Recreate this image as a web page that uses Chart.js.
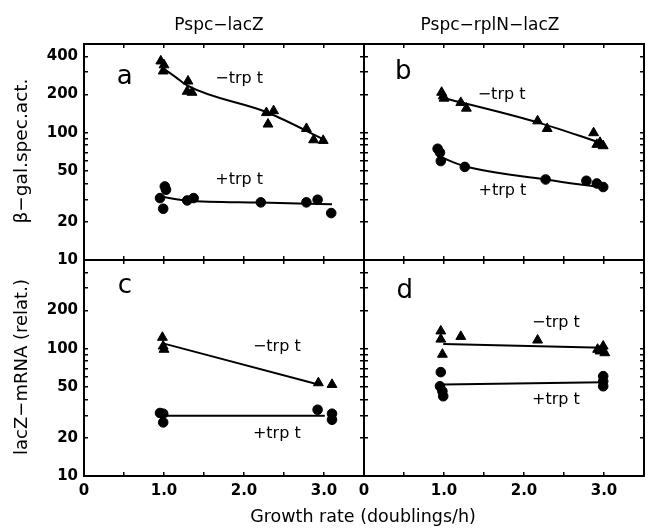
<!DOCTYPE html>
<html><head><meta charset="utf-8">
<script src="https://cdn.jsdelivr.net/npm/chart.js@4"></script>
<style>
html,body{margin:0;padding:0;background:#fff;}
#wrap{position:relative;width:654px;height:529px;background:#fff;}
canvas{position:absolute;left:0;top:0;}
</style></head><body>
<div id="wrap">
<canvas id="ca" width="654" height="529"></canvas>
<canvas id="cb" width="654" height="529"></canvas>
<canvas id="cc" width="654" height="529"></canvas>
<canvas id="cd" width="654" height="529"></canvas>
</div>
<script>
// ---- axis ticks ----
const xTickLabels = {0: '0', 1: '1.0', 2: '2.0', 3: '3.0'};
const yTickValues = [10,20,30,40,50,60,70,80,90,100,200,300,400,500];
const yLabelsTop = [10,20,50,100,200,400];
const yLabelsBottom = [10,20,50,100,200];

// ---- panel a: Pspc-lacZ, beta-gal ----
const aMinusX = [0.96,1.00,0.99,1.30,1.29,1.35,2.28,2.37,2.30,2.78,2.87,2.99];
const aMinusY = [367,342,306,255,212,208,144,149,117,108,88,87];
const aPlusX  = [0.95,1.01,1.025,0.99,1.29,1.37,2.21,2.78,2.92,3.09];
const aPlusY  = [30.7,37.9,35.7,25.3,29.4,30.7,28.4,28.4,29.8,23.4];
const aMinusFitX = [0.97,1.15,1.30,2.30,3.01];
const aMinusFitY = [330,273,234,144,88];
const aPlusFitX = [0.95,1.29,2.20,3.10];
const aPlusFitY = [31.6,29.4,28.3,27.5];

// ---- panel b: Pspc-rplN-lacZ, beta-gal ----
const bMinusX = [0.97,0.99,1.00,1.21,1.28,2.17,2.29,2.87,2.91,2.95,2.99];
const bMinusY = [208,195,187,173,156,124,108,100,81,84,79];
const bPlusX  = [0.92,0.95,0.96,1.26,2.27,2.78,2.91,2.99];
const bPlusY  = [75,70,60,54,43,42,40,37.5];
const bMinusFitX = [0.97,2.17,2.97];
const bMinusFitY = [190,121,83];
const bPlusFitX = [0.97,1.26,2.27,3.00];
const bPlusFitY = [64,54.6,43,37];

// ---- panel c: Pspc-lacZ, mRNA ----
const cMinusX = [0.98,0.99,1.00,2.93,3.10];
const cMinusY = [123,105,99,54,52.4];
const cPlusX  = [0.95,0.99,0.99,2.92,3.10,3.10];
const cPlusY  = [31.3,30.9,26.4,33.2,30.9,27.7];
const cMinusFitX = [1.00,2.93];
const cMinusFitY = [110,52.4];
const cPlusFitX = [0.99,3.01];
const cPlusFitY = [29.8,29.8];

// ---- panel d: Pspc-rplN-lacZ, mRNA ----
const dMinusX = [0.96,0.96,0.98,1.21,2.17,2.92,2.99,3.01,2.95];
const dMinusY = [138,119,90.5,125,117,99,105,93,96];
const dPlusX  = [0.96,0.95,0.98,0.99,2.99,2.99,2.99];
const dPlusY  = [65.6,50.8,46.4,42.4,61,55.6,50.8];
const dMinusFitX = [0.99,2.99];
const dMinusFitY = [109,102];
const dPlusFitX = [0.99,2.99];
const dPlusFitY = [52.4,54.7];

// ---- in-panel text (data coordinates) ----
const aNoteText = ['a','−trp t','+trp t'];
const aNoteX = [0.51,1.94,1.94]; const aNoteY = [275,265,42.9];
const bNoteText = ['b','−trp t','+trp t'];
const bNoteX = [0.49,1.72,1.73]; const bNoteY = [301,198,35.1];
const cNoteText = ['c','−trp t','+trp t'];
const cNoteX = [0.51,2.41,2.41]; const cNoteY = [309,103,21.5];
const dNoteText = ['d','−trp t','+trp t'];
const dNoteX = [0.51,2.40,2.40]; const dNoteY = [286,159,39.8];

const FONT = '"DejaVu Sans", sans-serif';

function pts(xs, ys) { return xs.map((x, i) => ({x: x, y: ys[i]})); }

const notesPlugin = {
  id: 'notes',
  afterDatasetsDraw(chart, args, opts) {
    const ctx = chart.ctx, sx = chart.scales.x, sy = chart.scales.y;
    ctx.save();
    ctx.fillStyle = '#000';
    ctx.textAlign = 'center';
    ctx.textBaseline = 'middle';
    opts.texts.forEach((t, i) => {
      ctx.font = (i === 0 ? '26px ' : '16px ') + FONT;
      ctx.fillText(t, sx.getPixelForValue(opts.xs[i]), sy.getPixelForValue(opts.ys[i]));
    });
    ctx.restore();
  }
};

const frameTextPlugin = {
  id: 'frameText',
  afterDraw(chart) {
    const ctx = chart.ctx;
    ctx.save();
    ctx.fillStyle = '#000';
    ctx.textAlign = 'center';
    ctx.textBaseline = 'middle';
    ctx.font = '17px ' + FONT;
    ctx.fillText('Pspc−lacZ', 219, 26);
    ctx.fillText('Pspc−rplN−lacZ', 490, 26);
    ctx.font = '17.5px ' + FONT;
    ctx.fillText('Growth rate (doublings/h)', 363, 517);
    ctx.font = '18.5px ' + FONT;
    ctx.translate(22, 151);
    ctx.rotate(-Math.PI / 2);
    ctx.fillText('β−gal.spec.act.', 0, 0);
    ctx.restore();
    ctx.save();
    ctx.fillStyle = '#000';
    ctx.textAlign = 'center';
    ctx.textBaseline = 'middle';
    ctx.font = '18px ' + FONT;
    ctx.translate(22, 367);
    ctx.rotate(-Math.PI / 2);
    ctx.fillText('lacZ−mRNA (relat.)', 0, 0);
    ctx.restore();
  }
};

function axisGrid() {
  return {drawOnChartArea: false, drawTicks: true, tickLength: -4, color: '#000', lineWidth: 1.5};
}
const border = {display: true, color: '#000', width: 2};

function makePanel(id, p) {
  const tickFont = {family: FONT, size: 15, weight: 'bold'};
  const plugins = [notesPlugin];
  if (p.frameText) plugins.push(frameTextPlugin);
  return new Chart(document.getElementById(id), {
    type: 'scatter',
    data: {datasets: [
      {data: pts(p.minusFitX, p.minusFitY), showLine: true, borderColor: '#000', borderWidth: 2, pointRadius: 0, tension: 0.4, cubicInterpolationMode: 'monotone', fill: false},
      {data: pts(p.plusFitX, p.plusFitY), showLine: true, borderColor: '#000', borderWidth: 2, pointRadius: 0, tension: 0.4, cubicInterpolationMode: 'monotone', fill: false},
      {data: pts(p.minusX, p.minusY), showLine: false, pointStyle: 'triangle', pointRadius: 5.7, backgroundColor: '#000', borderColor: '#000', borderWidth: 1},
      {data: pts(p.plusX, p.plusY), showLine: false, pointStyle: 'circle', pointRadius: 4.8, backgroundColor: '#000', borderColor: '#000', borderWidth: 1}
    ]},
    options: {
      responsive: false, animation: false, events: [],
      layout: {padding: p.padding},
      plugins: {legend: {display: false}, tooltip: {enabled: false},
        notes: {texts: p.notes, xs: p.noteX, ys: p.noteY}},
      scales: {
        x: {type: 'linear', position: 'bottom', min: 0, max: 3.5,
          ticks: {stepSize: 0.5, display: p.showX, autoSkip: false, maxRotation: 0, padding: 10, color: '#000', font: tickFont,
            callback: v => (xTickLabels[v] !== undefined ? xTickLabels[v] : '')},
          grid: axisGrid(), border: border, afterFit: s => { s.height = p.xH; }},
        x2: {type: 'linear', position: 'top', min: 0, max: 3.5,
          ticks: {stepSize: 0.5, display: false}, grid: axisGrid(), border: border, afterFit: s => { s.height = 0; }},
        y: {type: 'logarithmic', position: 'left', min: 10, max: 500,
          afterBuildTicks: s => { s.ticks = yTickValues.map(v => ({value: v})); },
          ticks: {display: p.showY, autoSkip: false, padding: 10, color: '#000', font: tickFont,
            callback: v => (p.yLabels.includes(v) ? String(v) : '')},
          grid: axisGrid(), border: border, afterFit: s => { s.width = p.yW; }},
        y2: {type: 'logarithmic', position: 'right', min: 10, max: 500,
          afterBuildTicks: s => { s.ticks = yTickValues.map(v => ({value: v})); },
          ticks: {display: false}, grid: axisGrid(), border: border, afterFit: s => { s.width = 0; }}
      }
    },
    plugins: plugins
  });
}

makePanel('ca', {padding: {left: 0, right: 290, top: 44, bottom: 269}, yW: 84, xH: 0, showX: false, showY: true, yLabels: yLabelsTop,
  minusX: aMinusX, minusY: aMinusY, plusX: aPlusX, plusY: aPlusY,
  minusFitX: aMinusFitX, minusFitY: aMinusFitY, plusFitX: aPlusFitX, plusFitY: aPlusFitY,
  notes: aNoteText, noteX: aNoteX, noteY: aNoteY, frameText: true});
makePanel('cb', {padding: {left: 364, right: 10, top: 44, bottom: 269}, yW: 0, xH: 0, showX: false, showY: false, yLabels: [],
  minusX: bMinusX, minusY: bMinusY, plusX: bPlusX, plusY: bPlusY,
  minusFitX: bMinusFitX, minusFitY: bMinusFitY, plusFitX: bPlusFitX, plusFitY: bPlusFitY,
  notes: bNoteText, noteX: bNoteX, noteY: bNoteY});
makePanel('cc', {padding: {left: 0, right: 290, top: 260, bottom: 0}, yW: 84, xH: 53, showX: true, showY: true, yLabels: yLabelsBottom,
  minusX: cMinusX, minusY: cMinusY, plusX: cPlusX, plusY: cPlusY,
  minusFitX: cMinusFitX, minusFitY: cMinusFitY, plusFitX: cPlusFitX, plusFitY: cPlusFitY,
  notes: cNoteText, noteX: cNoteX, noteY: cNoteY});
makePanel('cd', {padding: {left: 364, right: 10, top: 260, bottom: 0}, yW: 0, xH: 53, showX: true, showY: false, yLabels: [],
  minusX: dMinusX, minusY: dMinusY, plusX: dPlusX, plusY: dPlusY,
  minusFitX: dMinusFitX, minusFitY: dMinusFitY, plusFitX: dPlusFitX, plusFitY: dPlusFitY,
  notes: dNoteText, noteX: dNoteX, noteY: dNoteY});
</script>
</body></html>
